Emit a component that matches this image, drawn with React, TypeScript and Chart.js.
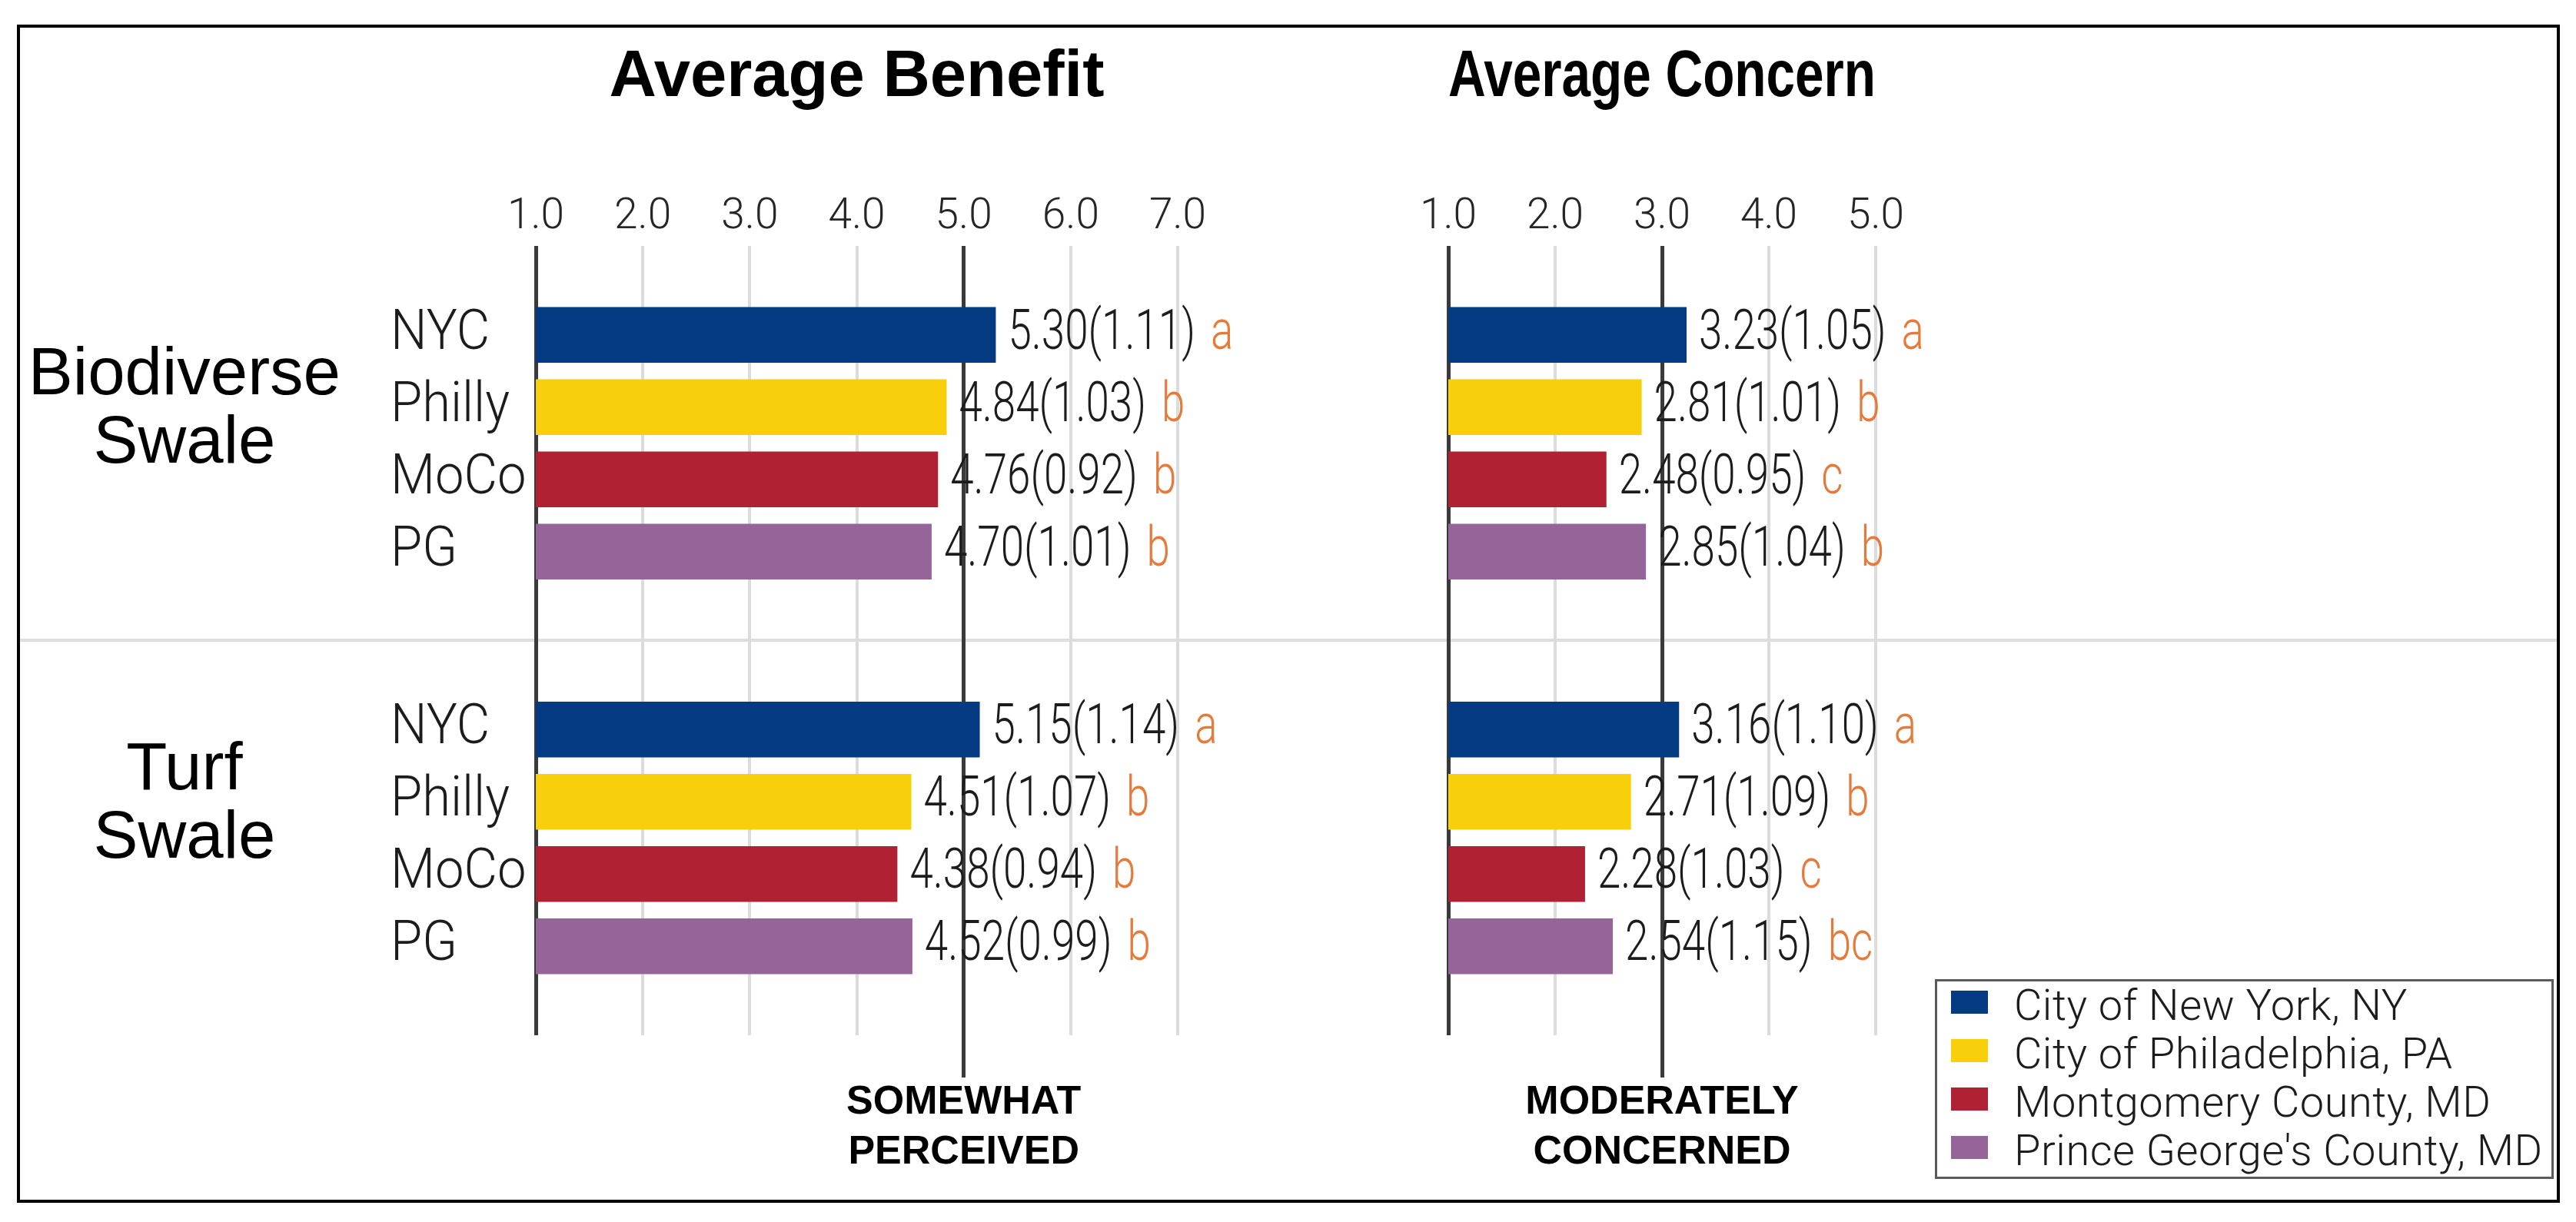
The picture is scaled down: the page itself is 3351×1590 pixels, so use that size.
import React, { useEffect, useRef } from 'react';
import { Chart, registerables } from 'chart.js';

Chart.register(...registerables);

// ---------- data ----------
const swaleTypes = [['Biodiverse', 'Swale'], ['Turf', 'Swale']];
const regionShort = ['NYC', 'Philly', 'MoCo', 'PG'];
const regionNames = ['City of New York, NY', 'City of Philadelphia, PA', 'Montgomery County, MD', "Prince George's County, MD"];
const regionColors = ['#033a82', '#f8cf0b', '#b02233', '#95659a'];

// each row = one region, columns = [Biodiverse Swale, Turf Swale]
const benefitMeans = [[5.30, 5.15], [4.84, 4.51], [4.76, 4.38], [4.70, 4.52]];
const benefitSDs = [[1.11, 1.14], [1.03, 1.07], [0.92, 0.94], [1.01, 0.99]];
const benefitLetters = [['a', 'a'], ['b', 'b'], ['b', 'b'], ['b', 'b']];

const concernMeans = [[3.23, 3.16], [2.81, 2.71], [2.48, 2.28], [2.85, 2.54]];
const concernSDs = [[1.05, 1.10], [1.01, 1.09], [0.95, 1.03], [1.04, 1.15]];
const concernLetters = [['a', 'a'], ['b', 'b'], ['c', 'c'], ['b', 'bc']];

const benefitTicks = [1, 2, 3, 4, 5, 6, 7];
const concernTicks = [1, 2, 3, 4, 5];
const benefitRef = 5;
const benefitRefLabel = ['SOMEWHAT', 'PERCEIVED'];
const concernRef = 3;
const concernRefLabel = ['MODERATELY', 'CONCERNED'];

// ---------- styles ----------
const THIN = "Roboto, 'Liberation Sans', sans-serif";
const SANS = "'Liberation Sans', Arial, sans-serif";
const ORANGE = '#e67a3a';
const DARK = '#3a3a3a';
const LIGHT = '#dcdcdc';
const TEXT = '#1c1c1c';

const barLabelPlugin = {
  id: 'barLabels',
  afterDatasetsDraw(chart: any, _args: any, opts: any) {
    const ctx = chart.ctx;
    ctx.save();
    ctx.textBaseline = 'middle';
    ctx.textAlign = 'left';
    ctx.font = `300 72px ${THIN}`;
    chart.data.datasets.forEach((_ds: any, i: number) => {
      const meta = chart.getDatasetMeta(i);
      meta.data.forEach((bar: any, j: number) => {
        const txt = `${opts.means[i][j].toFixed(2)}(${opts.sds[i][j].toFixed(2)})`;
        const x0 = bar.x + opts.gap;
        const s = opts.valueScale;
        const w = ctx.measureText(txt).width * s;
        ctx.save();
        ctx.translate(x0, bar.y);
        ctx.scale(s, 1);
        ctx.fillStyle = TEXT;
        ctx.fillText(txt, 0, 0);
        ctx.restore();
        ctx.save();
        ctx.translate(x0 + w + opts.letterGap, bar.y);
        ctx.scale(s, 1);
        ctx.fillStyle = ORANGE;
        ctx.fillText(opts.letters[i][j], 0, 0);
        ctx.restore();
        if (opts.showNames) {
          ctx.save();
          ctx.translate(chart.chartArea.left - opts.nameOffset, bar.y);
          ctx.scale(opts.nameScale, 1);
          ctx.fillStyle = TEXT;
          ctx.fillText(regionShort[i], 0, 0);
          ctx.restore();
        }
      });
    });
    ctx.restore();
  },
};

type PanelProps = {
  title: string;
  means: number[][];
  sds: number[][];
  letters: string[][];
  ticks: number[];
  refValue: number;
  refLabel: string[];
  showCats: boolean;
  left: number;
  top: number;
  width: number;
  height: number;
  padLeft: number;
  padRight: number;
  yWidth: number;
};

function Panel(p: PanelProps) {
  const ref = useRef<HTMLCanvasElement>(null);
  useEffect(() => {
    const min = p.ticks[0];
    const max = p.ticks[p.ticks.length - 1];
    const isDark = (c: any) => c.tick && (c.tick.value === min || c.tick.value === p.refValue);
    const chart = new Chart(ref.current as HTMLCanvasElement, {
      type: 'bar',
      data: {
        labels: swaleTypes as any,
        datasets: regionShort.map((_r, i) => ({
          label: regionNames[i],
          data: p.means[i],
          backgroundColor: regionColors[i],
          borderWidth: 0,
          categoryPercentage: 0.732,
          barPercentage: 0.77,
          xAxisID: 'x',
          yAxisID: 'y',
        })),
      },
      options: {
        indexAxis: 'y',
        responsive: false,
        animation: false,
        devicePixelRatio: 1,
        layout: { padding: { left: p.padLeft, right: p.padRight, top: 0, bottom: 0 } },
        plugins: {
          legend: { display: false },
          tooltip: { enabled: false },
          title: {
            display: true,
            text: p.title,
            fullSize: false,
            color: '#000',
            font: { family: SANS, size: 85, weight: 'bold', lineHeight: 1.2 },
            padding: { top: 15, bottom: 10 },
          },
          barLabels: {
            means: p.means,
            sds: p.sds,
            letters: p.letters,
            gap: 16,
            letterGap: 20,
            valueScale: 0.76,
            nameScale: 0.93,
            showNames: p.showCats,
            nameOffset: 189,
          },
        } as any,
        scales: {
          x: {
            type: 'linear',
            position: 'top',
            min,
            max,
            afterBuildTicks: (s: any) => { s.ticks = p.ticks.map((v) => ({ value: v })); },
            afterFit: (s: any) => { s.height = 157; },
            grid: {
              color: (c: any) => (isDark(c) ? DARK : LIGHT),
              lineWidth: (c: any) => (isDark(c) ? 5 : 4),
              drawTicks: false,
            },
            border: { display: false },
            ticks: {
              font: { family: THIN, size: 55, weight: '300' },
              color: '#262626',
              padding: 4,
              maxRotation: 0,
              autoSkip: false,
              callback: (v: any) => Number(v).toFixed(1),
            },
          },
          x2: {
            type: 'linear',
            position: 'bottom',
            min,
            max,
            afterBuildTicks: (s: any) => { s.ticks = [{ value: p.refValue }]; },
            afterFit: (s: any) => { s.height = 215; },
            grid: {
              drawOnChartArea: false,
              drawTicks: true,
              tickLength: 55,
              tickColor: DARK,
              tickWidth: 5,
            },
            border: { display: false },
            ticks: {
              font: { family: SANS, size: 52, weight: 'bold', lineHeight: 1.25 },
              color: '#000',
              padding: 0,
              maxRotation: 0,
              autoSkip: false,
              callback: () => p.refLabel,
            },
          },
          y: {
            type: 'category',
            position: 'left',
            display: p.showCats,
            grid: { display: false, drawTicks: false },
            border: { display: false },
            afterFit: (s: any) => {
              s.width = p.yWidth;
              s.paddingTop = 0;
              s.paddingBottom = 0;
            },
            ticks: {
              font: { family: SANS, size: 87, lineHeight: 1.02 },
              color: '#000',
              crossAlign: 'center',
              padding: 254,
              labelOffset: -43,
            },
          },
        } as any,
      },
      plugins: [barLabelPlugin],
    } as any);
    return () => chart.destroy();
  }, []);
  return (
    <canvas
      ref={ref}
      width={p.width}
      height={p.height}
      style={{ position: 'absolute', left: p.left, top: p.top, width: p.width, height: p.height }}
    />
  );
}

export default function App() {
  return (
    <div style={{ position: 'absolute', left: 0, top: 0, width: 3351, height: 1590, background: '#fff', overflow: 'hidden' }}>
      <div
        style={{
          position: 'absolute', left: 22, top: 32, width: 3308, height: 1533,
          border: '4px solid #000', boxSizing: 'border-box',
        }}
      />
      <div style={{ position: 'absolute', left: 26, top: 831, width: 3300, height: 4, background: '#dedede' }} />
      <Panel
        title="Average Benefit"
        means={benefitMeans}
        sds={benefitSDs}
        letters={benefitLetters}
        ticks={benefitTicks}
        refValue={benefitRef}
        refLabel={benefitRefLabel}
        showCats={true}
        left={26}
        top={36}
        width={1780}
        height={1526}
        padLeft={0}
        padRight={274}
        yWidth={671}
      />
      <Panel
        title="Average Concern"
        means={concernMeans}
        sds={concernSDs}
        letters={concernLetters}
        ticks={concernTicks}
        refValue={concernRef}
        refLabel={concernRefLabel}
        showCats={false}
        left={1810}
        top={36}
        width={900}
        height={1526}
        padLeft={74}
        padRight={270}
        yWidth={0}
      />
      <div
        style={{
          position: 'absolute', left: 2517, top: 1274, width: 805, height: 260,
          border: '3px solid #5a5a5a', boxSizing: 'border-box', background: '#fff',
        }}
      >
        {regionNames.map((n, i) => (
          <div key={n} style={{ position: 'absolute', left: 0, top: i * 63, height: 63, width: '100%' }}>
            <div style={{ position: 'absolute', left: 18, top: 12, width: 48, height: 30, background: regionColors[i] }} />
            <div
              style={{
                position: 'absolute', left: 100, top: 0, lineHeight: '63px', whiteSpace: 'nowrap',
                fontFamily: THIN, fontWeight: 300, fontSize: 56, letterSpacing: '0.5px', color: TEXT,
              }}
            >
              {n}
            </div>
          </div>
        ))}
      </div>
    </div>
  );
}
